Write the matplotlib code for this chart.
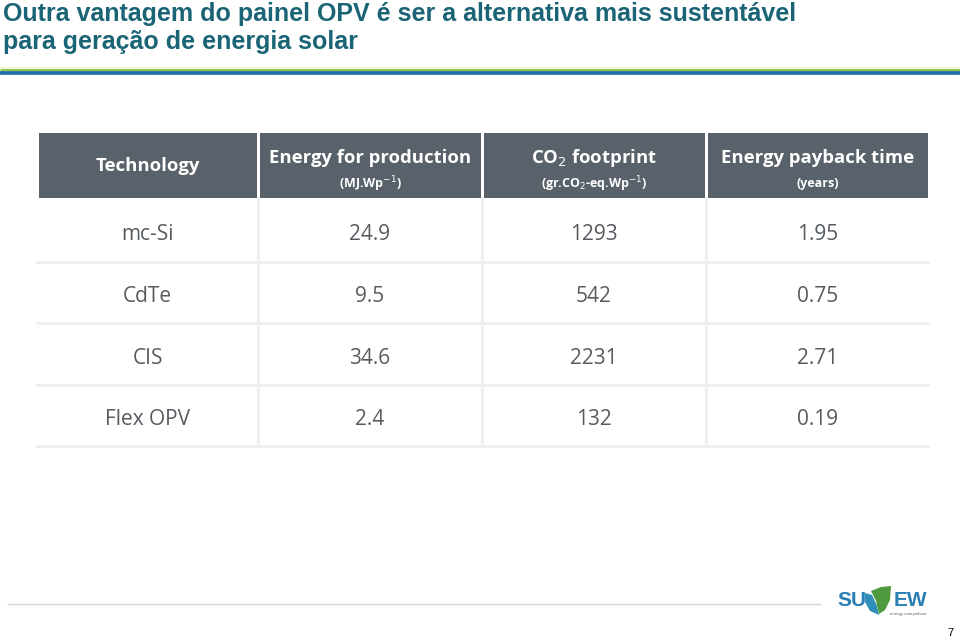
import matplotlib.pyplot as plt
from matplotlib.patches import Rectangle, Polygon

# Table data
headers = ["Technology", "Energy for production", r"CO$_2$ footprint", "Energy payback time"]
units = ["", r"(MJ.Wp$^{-1}$)", r"(gr.CO$_2$-eq.Wp$^{-1}$)", "(years)"]
technologies = ["mc-Si", "CdTe", "CIS", "Flex OPV"]
energy_production = ["24.9", "9.5", "34.6", "2.4"]
co2_footprint = ["1293", "542", "2231", "132"]
payback_time = ["1.95", "0.75", "2.71", "0.19"]

TITLE = "Outra vantagem do painel OPV é ser a alternativa mais sustentável\npara geração de energia solar"

# Layout (pixels)
col_edges = [37, 258, 482, 706, 929]
header_top, header_bot = 133, 198
row_edges = [198, 262, 323, 385, 446]

HEADER_BG = '#59626a'
TEXT_COL = '#565b60'
GRID_COL = '#eceeef'

fig = plt.figure(figsize=(9.6, 6.38), dpi=100)
ax = fig.add_axes([0, 0, 1, 1])
ax.set_xlim(0, 960)
ax.set_ylim(638, 0)
ax.axis('off')

# Title
ax.text(3, 2, TITLE, ha='left', va='top', fontsize=18, fontweight='bold',
        color='#1a6475', family='Liberation Sans', linespacing=1.2)

# Title rule lines
ax.plot([0, 960], [67.5, 67.5], color='#eaf4cc', lw=1.2, solid_capstyle='butt')
ax.plot([0, 960], [69.5, 69.5], color='#8dc04a', lw=2.0, solid_capstyle='butt')
ax.plot([0, 960], [73, 73], color='#1f6fb0', lw=2.6, solid_capstyle='butt')

# Header cells
for i in range(4):
    x0, x1 = col_edges[i] + 1.5, col_edges[i + 1] - 1.5
    ax.add_patch(Rectangle((x0, header_top), x1 - x0, header_bot - header_top,
                           facecolor=HEADER_BG, edgecolor='none'))
    xc = (x0 + x1) / 2
    if units[i]:
        ax.text(xc, 158, headers[i], ha='center', va='center', color='white',
                fontsize=13.3, fontweight='bold', family='Open Sans')
        ax.text(xc, 184, units[i], ha='center', va='center', color='white',
                fontsize=9, fontweight='bold', family='Open Sans')
    else:
        ax.text(xc, 166, headers[i], ha='center', va='center', color='white',
                fontsize=13.3, fontweight='bold', family='Open Sans')

# Body grid lines
for y in row_edges[1:]:
    ax.plot([col_edges[0], col_edges[-1]], [y, y], color=GRID_COL, lw=1.8)
for x in col_edges[1:-1]:
    ax.plot([x, x], [row_edges[0], row_edges[-1]], color=GRID_COL, lw=1.8)

# Body text
columns = [technologies, energy_production, co2_footprint, payback_time]
for j, col in enumerate(columns):
    xc = (col_edges[j] + col_edges[j + 1]) / 2
    for r, val in enumerate(col):
        yc = (row_edges[r] + row_edges[r + 1]) / 2 + 4
        ax.text(xc, yc, val, ha='center', va='center', color=TEXT_COL,
                fontsize=15, family='Open Sans')

# Footer rule and logo
ax.plot([8, 820], [604, 604], color='#d5d5d5', lw=1.0)
ax.text(852, 601, "SU", ha='center', va='center', color='#2a7fb5',
        fontsize=15, fontweight='bold', family='Liberation Sans')
ax.text(910, 601, "EW", ha='center', va='center', color='#2a7fb5',
        fontsize=15, fontweight='bold', family='Liberation Sans')
ax.add_patch(Polygon([(865, 593), (872, 595), (877, 606), (879, 615), (870, 611), (865, 602)],
                     closed=True, facecolor='#2f8fb8', edgecolor='none'))
ax.add_patch(Polygon([(871, 591), (881, 587), (891, 586), (890, 600), (885, 610), (879, 614), (876, 601)],
                     closed=True, facecolor='#4f9a3c', edgecolor='none'))
ax.text(908, 614, "energy everywhere", ha='center', va='center', color='#666666',
        fontsize=3.2, family='Liberation Sans')
ax.text(950, 633, "7", ha='center', va='center', color='black',
        fontsize=8, family='Liberation Sans')

fig.savefig('out.png', dpi=100)
